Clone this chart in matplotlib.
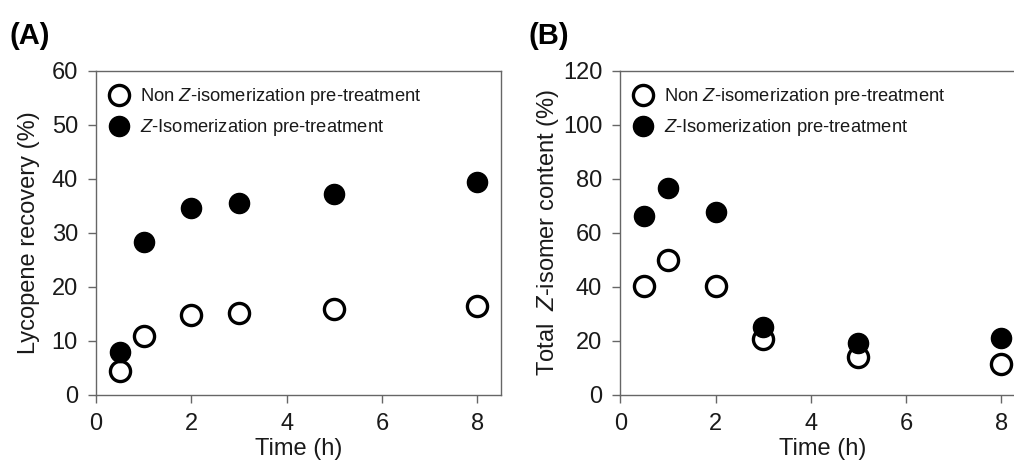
import matplotlib
matplotlib.use('Agg')
import matplotlib.pyplot as plt

plt.rcParams['font.family'] = ['Liberation Sans', 'DejaVu Sans']
plt.rcParams['mathtext.fontset'] = 'custom'
plt.rcParams['mathtext.rm'] = 'Liberation Sans'
plt.rcParams['mathtext.it'] = 'Liberation Sans:italic'

# time points (h)
time_h = [0.5, 1, 2, 3, 5, 8]

# (A) lycopene recovery (%)
recovery_non = [4.4, 10.9, 14.8, 15.2, 15.9, 16.4]
recovery_z = [8.0, 28.4, 34.6, 35.6, 37.2, 39.4]

# (B) total Z-isomer content (%)
zcontent_non = [40.2, 50.0, 40.2, 20.9, 14.1, 11.3]
zcontent_z = [66.3, 76.8, 67.9, 25.1, 19.3, 21.1]

lab_non = 'Non $\\it{Z}$-isomerization pre-treatment'
lab_z = '$\\it{Z}$-Isomerization pre-treatment'

fig = plt.figure(figsize=(10.14, 4.63), dpi=100)
axA = fig.add_axes([0.0947, 0.1469, 0.3994, 0.70])
axB = fig.add_axes([0.6117, 0.1469, 0.3994, 0.70])

spine_col = '#666666'
txt_col = '#1a1a1a'

def style(ax, ymax, ystep, ylabel, lpad):
    ax.set_xlim(0, 8.5)
    ax.set_ylim(0, ymax)
    ax.set_xticks([0, 2, 4, 6, 8])
    ax.set_yticks(range(0, ymax + 1, ystep))
    for s in ax.spines.values():
        s.set_color(spine_col)
        s.set_linewidth(1.0)
    ax.tick_params(direction='out', length=6, width=1.0, color=spine_col,
                   labelsize=17, labelcolor=txt_col, pad=7)
    ax.set_xlabel('Time (h)', fontsize=17, labelpad=2, color=txt_col)
    ax.set_ylabel(ylabel, fontsize=17, labelpad=lpad, color=txt_col)

def draw(ax, y_non, y_z):
    ax.plot(time_h, y_non, 'o', ms=14.5, mfc='white', mec='black', mew=2.4,
            ls='none', label=lab_non, clip_on=False)
    ax.plot(time_h, y_z, 'o', ms=14.5, mfc='black', mec='black', mew=1,
            ls='none', label=lab_z, clip_on=False)
    leg = ax.legend(loc='upper left', frameon=False, fontsize=13.2,
                    handletextpad=0.65, borderaxespad=0.0, labelspacing=0.55,
                    handlelength=1.0, bbox_to_anchor=(0.015, 0.975))
    for t in leg.get_texts():
        t.set_color(txt_col)

draw(axA, recovery_non, recovery_z)
style(axA, 60, 10, 'Lycopene recovery (%)', 8)

draw(axB, zcontent_non, zcontent_z)
style(axB, 120, 20, 'Total  $\\it{Z}$-isomer content (%)', 1)

fig.text(0.009, 0.905, '(A)', fontsize=21, fontweight='bold')
fig.text(0.521, 0.905, '(B)', fontsize=21, fontweight='bold')

fig.savefig('out.png', dpi=100)
